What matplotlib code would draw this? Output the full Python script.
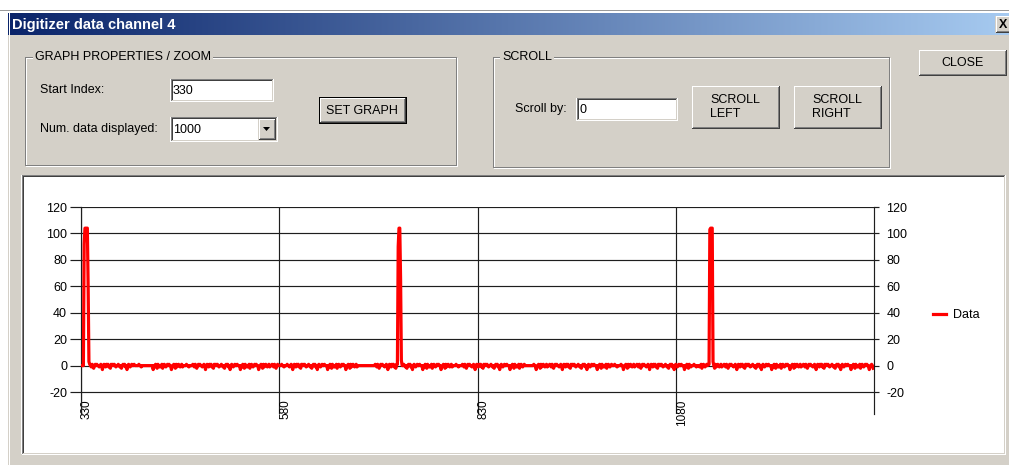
import matplotlib
matplotlib.use("Agg")
import numpy as np
import matplotlib.pyplot as plt
from matplotlib.patches import Rectangle, Polygon
from matplotlib.lines import Line2D

# ------------------------------------------------------------------ data
START_INDEX = 330
NUM_POINTS = 1000
X_TICKS = [330, 580, 830, 1080]
X_TICK_LABELS = ["330", "580", "830", "1080"]
Y_TICKS = [-20, 0, 20, 40, 60, 80, 100, 120]
Y_TICK_LABELS = ["-20", "0", "20", "40", "60", "80", "100", "120"]
Y_LIMITS = (-36.6, 120)
SERIES_NAME = "Data"

# baseline noise, one symbol per sample
NOISE_CODE = {"_": 0, "+": 1, "-": -1, "=": -2, "v": -3}
NOISE_ROWS = [
    "__________" "_+_-+_=_+_" "+__-_+_v_+" "_-+_+-_=+_" "+_+_-__+_-",
    "_=_+_+-_v_" "+_-_+__+__" "___+__-___" "__________" "_v_-+_=+_-",
    "-_+=_+_-_+" "_+__v-_+_=" "+-_+_-_+-_" "___+__-___" "_+_-+_=_+_",
    "+__-_+_v_+" "_-+_+-_=+_" "+_+_-__+_-" "_=_+_+-_v_" "+_-_+__+__",
    "_v_-+_=+_-" "-_+=_+_-_+" "_+__v-_+_=" "+-_+_-_+-_" "_+_-+_=_+_",
    "___+__-___" "+__-_+_v_+" "_-+_+-_=+_" "+_+_-__+_-" "_=_+_+-_v_",
    "+_-_+__+__" "_v_-+_=+_-" "-_+=_+_-_+" "_+__v-_+_=" "+-_+_-_+-_",
    "__________" "__________" "_+_-+_=_+_" "+__-_+_v_+" "_-+_+-_=+_",
    "+_+_-__+_-" "_=_+_+-_v_" "+_-_+__+__" "_v_-+_=+_-" "-_+=_+_-_+",
    "_+__v-_+_=" "+-_+_-_+-_" "___+__-___" "_+_-+_=_+_" "+__-_+_v_+",
    "_-+_+-_=+_" "+_+_-__+_-" "_=_+_+-_v_" "+_-_+__+__" "_v_-+_=+_-",
    "-_+=_+_-_+" "__________" "_+__v-_+_=" "+-_+_-_+-_" "_+_-+_=_+_",
    "+__-_+_v_+" "_-+_+-_=+_" "+_+_-__+_-" "_=_+_+-_v_" "+_-_+__+__",
    "_v_-+_=+_-" "-_+=_+_-_+" "___+__-___" "_+__v-_+_=" "+-_+_-_+-_",
    "_+_-+_=_+_" "+__-_+_v_+" "_-+_+-_=+_" "+_+_-__+_-" "_=_+_+-_v_",
    "+_-_+__+__" "_v_-+_=+_-" "___+__-___" "-_+=_+_-_+" "_+__v-_+_=",
    "+-_+_-_+-_" "_+_-+_=_+_" "+__-_+_v_+" "_-+_+-_=+_" "+_+_-__+_-",
    "_=_+_+-_v_" "+_-_+__+__" "_v_-+_=+_-" "-_+=_+_-_+" "_+__v-_+_=",
    "+-_+_-_+-_" "_+_-+_=_+_" "+__-_+_v_+" "_-+_+-_=+_" "+_+_-__+_-",
    "_=_+_+-_v_" "+_-_+__+__" "_v_-+_=+_-" "-_+=_+_-_+" "_+__v-_+_=",
]
# pulses (sample index -> value)
PEAK1_INDEX = [333, 334, 335, 336, 337, 338, 339, 340]
PEAK1_VALUE = [0, 92, 104, 104, 104, 104, 60, 3]
PEAK2_INDEX = [729, 730, 731, 732, 733, 734]
PEAK2_VALUE = [1, 90, 104, 104, 66, 4]
PEAK3_INDEX = [1122, 1123, 1124, 1125, 1126, 1127]
PEAK3_VALUE = [1, 103, 104, 104, 104, 3]

# UI texts
WINDOW_TITLE = "Digitizer data channel 4"
GROUP1_TITLE = "GRAPH PROPERTIES / ZOOM"
GROUP2_TITLE = "SCROLL"
START_LABEL = "Start Index:"
START_VALUE = "330"
NUM_LABEL = "Num. data displayed:"
NUM_VALUE = "1000"
SCROLL_LABEL = "Scroll by:"
SCROLL_VALUE = "0"

# ------------------------------------------------------------------ build series
symbols = "".join(NOISE_ROWS)
symbols = (symbols + "_" * NUM_POINTS)[:NUM_POINTS]
x = np.arange(START_INDEX, START_INDEX + NUM_POINTS)
y = np.array([NOISE_CODE[c] for c in symbols], dtype=float)
for idxs, vals in ((PEAK1_INDEX, PEAK1_VALUE), (PEAK2_INDEX, PEAK2_VALUE),
                   (PEAK3_INDEX, PEAK3_VALUE)):
    for i, v in zip(idxs, vals):
        y[i - START_INDEX] = v

# ------------------------------------------------------------------ figure
W, H = 1009, 465
DPI = 100
plt.rcParams["font.family"] = ["Liberation Sans", "DejaVu Sans"]
fig = plt.figure(figsize=(W / DPI, H / DPI), dpi=DPI)
fig.patch.set_facecolor("white")

FACE = "#D4D0C8"
PX = 72.0 / DPI  # one pixel in points
UIFS = 9.0

ui = fig.add_axes([0, 0, 1, 1])
ui.set_axis_off()


def fill(x0, y0, x1, y1, color, z=1):
    ui.add_patch(Rectangle((x0, y0), x1 - x0, y1 - y0, facecolor=color,
                           edgecolor="none", zorder=z))


def seg(xs, ys, color, z=2):
    ui.add_line(Line2D(xs, ys, color=color, lw=PX, antialiased=False,
                       solid_capstyle="projecting", zorder=z))


def edges(x0, y0, x1, y1, tl, br, z=2):
    seg([x0 + 0.5, x1 - 0.5], [y0 + 0.5, y0 + 0.5], tl, z)
    seg([x0 + 0.5, x0 + 0.5], [y0 + 0.5, y1 - 0.5], tl, z)
    seg([x0 + 0.5, x1 - 0.5], [y1 - 0.5, y1 - 0.5], br, z)
    seg([x1 - 0.5, x1 - 0.5], [y0 + 0.5, y1 - 0.5], br, z)


def raised(x0, y0, x1, y1, default=False):
    fill(x0, y0, x1, y1, FACE)
    if default:
        edges(x0 - 1, y0 - 1, x1 + 1, y1 + 1, "#000000", "#000000")
    edges(x0, y0, x1, y1, "#FFFFFF", "#404040")
    edges(x0 + 1, y0 + 1, x1 - 1, y1 - 1, FACE, "#808080")


def sunken(x0, y0, x1, y1, color="white"):
    fill(x0, y0, x1, y1, color)
    edges(x0, y0, x1, y1, "#808080", "#FFFFFF")
    edges(x0 + 1, y0 + 1, x1 - 1, y1 - 1, "#404040", FACE)


def group(x0, y0, x1, y1, title, tx):
    edges(x0 + 1, y0 + 1, x1, y1, "#FFFFFF", "#FFFFFF")
    edges(x0, y0, x1 - 1, y1 - 1, "#808080", "#808080")
    ui.text(tx, y0 + 0.5, title, fontsize=UIFS, ha="left", va="center",
            color="black", zorder=5,
            bbox=dict(facecolor=FACE, edgecolor="none", pad=1.2))


def label(xp, yp, s, **kw):
    kw.setdefault("ha", "left")
    ui.text(xp, yp, s, fontsize=UIFS, va="center", color="black", zorder=5,
            **kw)


# window background
fill(0, 0, W, H, "white", z=0)
seg([0, W], [10.5, 10.5], "#9A9A9A")
fill(8, 35, W, H, FACE)
seg([8.5, 8.5], [13, H], "#FFFFFF")

# title bar gradient
grad = np.linspace(0, 1, 256)
c0 = np.array([10, 36, 106]) / 255.0
c1 = np.array([166, 202, 240]) / 255.0
img = (c0[None, None, :] * (1 - grad)[None, :, None]
       + c1[None, None, :] * grad[None, :, None])
ui.imshow(img, extent=(8, W, 35, 13), aspect="auto", zorder=1,
          interpolation="bilinear")
ui.text(12, 24.5, WINDOW_TITLE, color="white", fontsize=10.5,
        fontweight="bold", ha="left", va="center", zorder=5)
raised(995, 16, W + 4, 33)
ui.text(1003, 24.5, "X", color="black", fontsize=9, fontweight="bold",
        ha="center", va="center", zorder=5)

# group 1
group(24, 57, 457, 167, GROUP1_TITLE, 35)
label(40, 90, START_LABEL)
sunken(170, 79, 273, 102)
label(173, 90.5, START_VALUE)
label(40, 129, NUM_LABEL)
sunken(170, 117, 277, 142)
label(173, 129.5, NUM_VALUE)
raised(258, 119, 275, 140)
ui.add_patch(Polygon([[263, 127], [270, 127], [266.5, 131]], closed=True,
                     facecolor="black", edgecolor="none", zorder=5))
raised(319, 98, 405, 123, default=True)
label(362, 110.5, "SET GRAPH", ha="center")

# group 2
group(492, 57, 890, 169, GROUP2_TITLE, 502)
label(515, 109, SCROLL_LABEL)
sunken(576, 98, 677, 121)
label(579, 109.5, SCROLL_VALUE)
raised(691, 86, 779, 129)
label(735, 107, "SCROLL\nLEFT", ha="center", multialignment="left",
      linespacing=1.3)
raised(793, 86, 881, 129)
label(837, 107, "SCROLL\nRIGHT", ha="center", multialignment="left",
      linespacing=1.3)
raised(918, 50, 1006, 76)
label(962, 63, "CLOSE", ha="center")

# chart panel
sunken(21, 175, 1005, 454)

ui.set_xlim(0, W)
ui.set_ylim(H, 0)

# ------------------------------------------------------------------ chart axes
AX_L, AX_R, AX_T, AX_B = 81, 874, 207, 414
ax = fig.add_axes([AX_L / W, 1 - AX_B / H, (AX_R - AX_L) / W, (AX_B - AX_T) / H])
ax.set_facecolor("none")
ax.set_xlim(START_INDEX, START_INDEX + NUM_POINTS)
ax.set_ylim(*Y_LIMITS)

line, = ax.plot(x, y, color="#FF0000", lw=2.3, zorder=3, label=SERIES_NAME,
                solid_joinstyle="round")

ax.set_yticks(Y_TICKS, labels=Y_TICK_LABELS)
ax.set_xticks(X_TICKS, labels=X_TICK_LABELS)
ax.grid(True, color="#1E1E1E", lw=0.85, zorder=1)
ax.set_axisbelow(True)
for s in ("top", "bottom", "right"):
    ax.spines[s].set_visible(False)
ax.spines["left"].set_color("#1E1E1E")
ax.spines["left"].set_linewidth(0.85)
ax.tick_params(axis="y", direction="out", length=8, width=0.85,
               color="#1E1E1E", pad=2, labelsize=9, labelcolor="black")
ax.tick_params(axis="x", length=0, pad=-10.5, labelsize=8.5,
               labelrotation=90, labelcolor="black")
for lbl in ax.get_xticklabels():
    lbl.set_horizontalalignment("left")
    lbl.set_verticalalignment("top")

ax2 = ax.twinx()
ax2.set_ylim(*Y_LIMITS)
ax2.set_yticks(Y_TICKS, labels=Y_TICK_LABELS)
for s in ("top", "bottom", "left"):
    ax2.spines[s].set_visible(False)
ax2.spines["right"].set_color("#1E1E1E")
ax2.spines["right"].set_linewidth(0.85)
ax2.tick_params(axis="y", direction="out", length=3.8, width=0.85,
                color="#1E1E1E", pad=5, labelsize=9, labelcolor="black")

ax.legend(handles=[line], labels=[SERIES_NAME], loc="center left",
          bbox_to_anchor=(933 / W, 1 - 315 / H),
          bbox_transform=fig.transFigure, frameon=False, borderpad=0,
          borderaxespad=0, handlelength=1.05, handletextpad=0.55,
          fontsize=9)

fig.savefig("out.png", dpi=DPI)
